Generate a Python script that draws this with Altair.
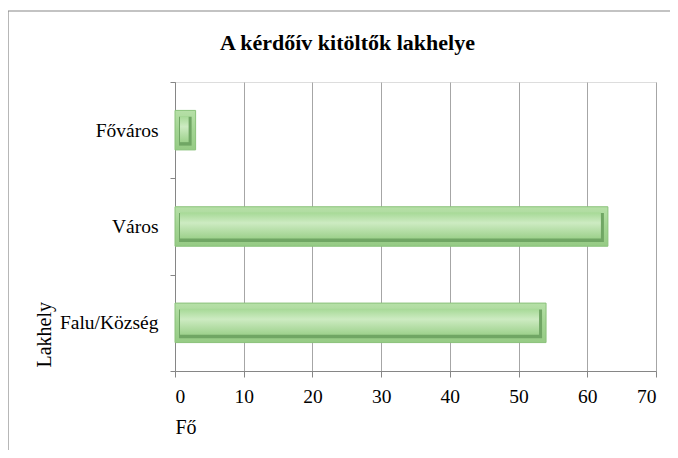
import altair as alt
import pandas as pd

categories = ["Főváros", "Város", "Falu/Község"]
values = [3, 63, 54]
x_ticks = [0, 10, 20, 30, 40, 50, 60, 70]

title_text = "A kérdőív kitöltők lakhelye"
x_title = "Fő"
y_title = "Lakhely"

df = pd.DataFrame({"Lakhely": categories, "Fo": values})

SERIF = "'Liberation Serif', 'Times New Roman', 'DejaVu Serif', serif"

y_enc = alt.Y(
    "Lakhely:N",
    sort=categories,
    scale=alt.Scale(paddingInner=0, paddingOuter=0),
    axis=alt.Axis(
        title=y_title,
        tickBand="extent",
        tickSize=5,
        tickColor="#868686",
        domainColor="#868686",
        labelFont=SERIF,
        labelFontSize=19.5,
        labelColor="#000000",
        labelPadding=12,
        titleFont=SERIF,
        titleFontSize=20,
        titleFontWeight="normal",
        titleColor="#000000",
        titleAngle=-90,
        titleAlign="left",
        titleBaseline="middle",
        titleX=-131,
        titleY=285,
        grid=False,
    ),
)

x_enc = alt.X(
    "Fo:Q",
    scale=alt.Scale(domain=[0, 70], nice=False),
    axis=alt.Axis(
        title=x_title,
        values=x_ticks,
        grid=True,
        gridColor="#a6a6a6",
        tickSize=6,
        tickColor="#868686",
        domainColor="#868686",
        labelFont=SERIF,
        labelFontSize=19.5,
        labelColor="#000000",
        labelPadding=10,
        titleFont=SERIF,
        titleFontSize=20,
        titleFontWeight="normal",
        titleColor="#000000",
        titleAnchor="start",
        titleAlign="left",
        titlePadding=12,
    ),
)

base = alt.Chart(df)

outer = base.mark_bar(
    height=alt.RelativeBandSize(0.41),
    fill=alt.LinearGradient(
        gradient="linear",
        x1=0, x2=0, y1=0, y2=1,
        stops=[
            alt.GradientStop(color="#b6e0a7", offset=0),
            alt.GradientStop(color="#a2d492", offset=0.5),
            alt.GradientStop(color="#96cb85", offset=1),
        ],
    ),
    stroke="#8ac27a",
    strokeWidth=1,
).encode(x=x_enc, x2=alt.X2(datum=0), y=y_enc)

shadow = base.mark_bar(
    height=alt.RelativeBandSize(0.3),
    color="#70a664",
    xOffset=-4,
    x2Offset=4,
    yOffset=1,
).encode(x="Fo:Q", x2=alt.X2(datum=0), y=alt.Y("Lakhely:N", sort=categories))

face = base.mark_bar(
    height=alt.RelativeBandSize(0.27),
    fill=alt.LinearGradient(
        gradient="linear",
        x1=0, x2=0, y1=0, y2=1,
        stops=[
            alt.GradientStop(color="#a6d996", offset=0),
            alt.GradientStop(color="#cdebc2", offset=0.4),
            alt.GradientStop(color="#9dd18c", offset=1),
        ],
    ),
    xOffset=-7,
    x2Offset=5,
    yOffset=-1,
).encode(x="Fo:Q", x2=alt.X2(datum=0), y=alt.Y("Lakhely:N", sort=categories))

frame_data = alt.Data(values=[{"f": 1}])
frame_left = alt.Chart(frame_data).mark_rule(color="#878787", strokeWidth=1.2).encode(
    x=alt.value(-167), x2=alt.value(-167), y=alt.value(-71), y2=alt.value(368)
)
frame_top = alt.Chart(frame_data).mark_rule(color="#878787", strokeWidth=1.2).encode(
    x=alt.value(-167), x2=alt.value(495), y=alt.value(-71), y2=alt.value(-71)
)

chart = alt.layer(frame_left, frame_top, outer, shadow, face).properties(
    width=481,
    height=289,
    autosize=alt.AutoSizeParams(type="none"),
    padding={"left": 167, "top": 74, "right": 14, "bottom": 79},
    title=alt.TitleParams(
        text=title_text,
        font=SERIF,
        fontSize=22,
        fontWeight="bold",
        color="#000000",
        anchor="middle",
        frame="group",
        dx=-68,
        baseline="alphabetic",
        offset=-62,
    ),
).configure_view(stroke=None).configure(background="white")

chart.save("out.html", embed_options={"renderer": "svg", "actions": False})
